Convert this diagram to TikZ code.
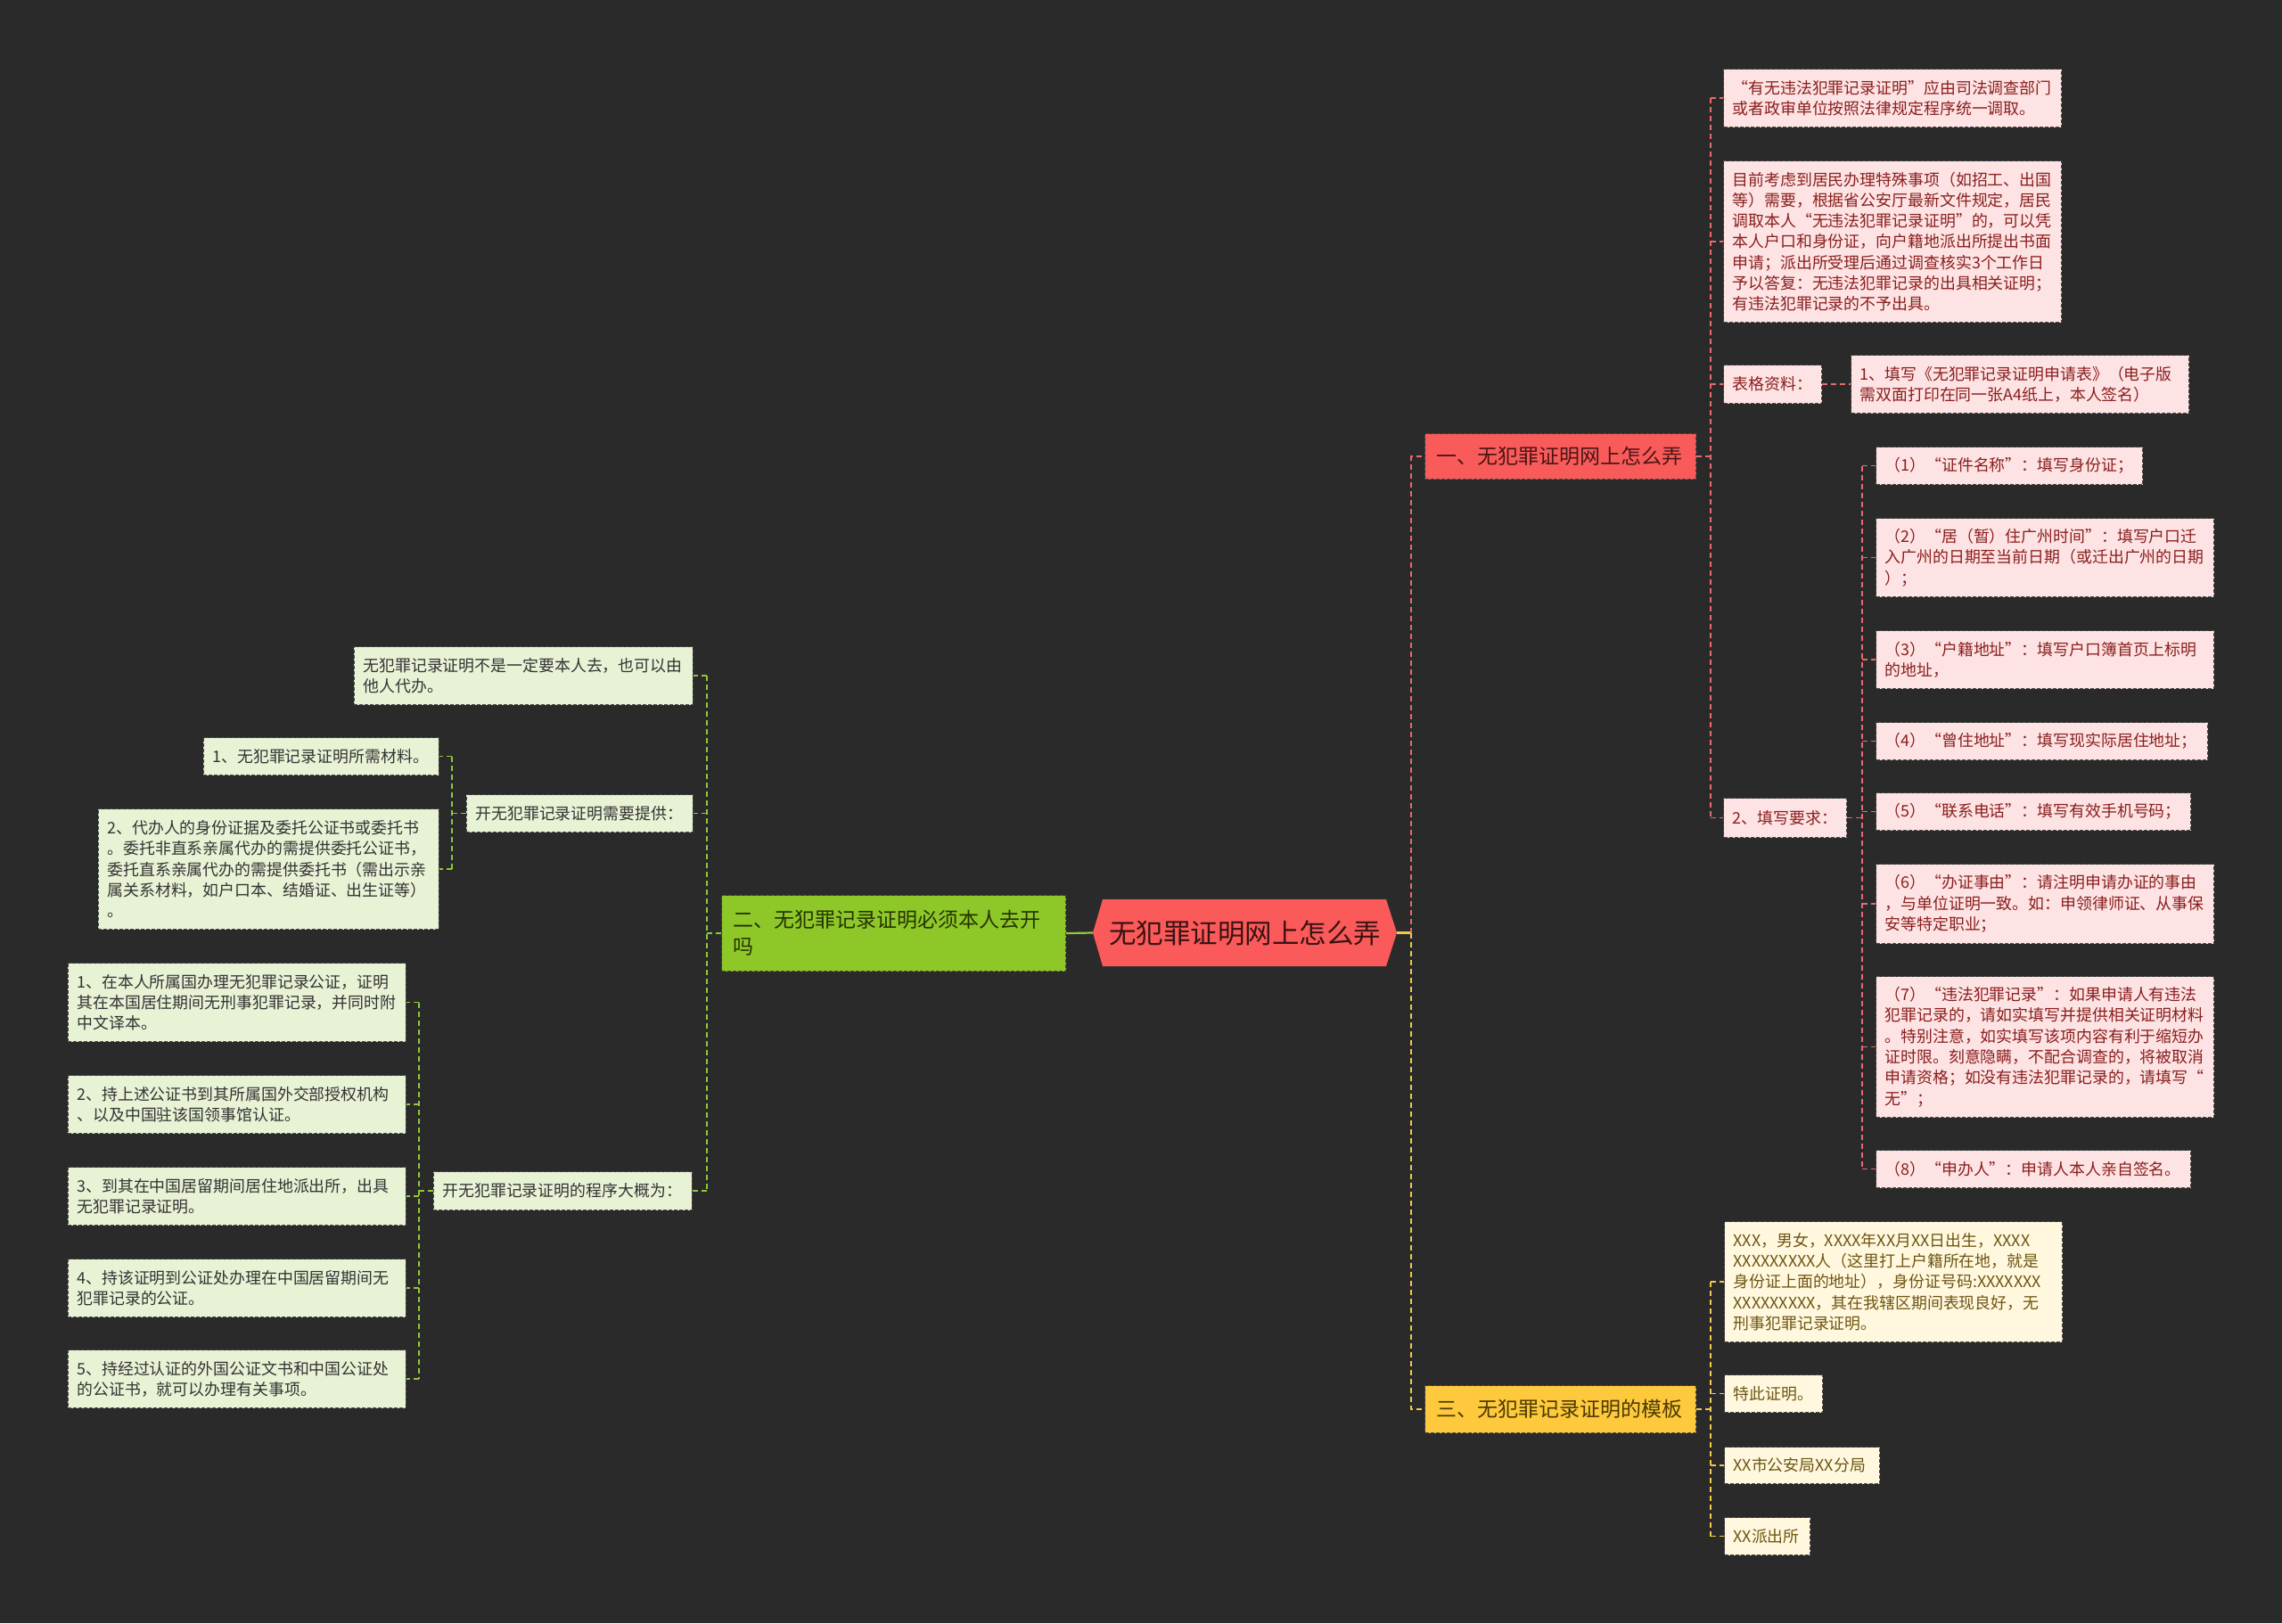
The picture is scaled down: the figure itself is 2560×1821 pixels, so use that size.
\documentclass[tikz,border=0pt]{standalone}
\usepackage{fontspec}
\setmainfont{Noto Sans CJK SC}
\definecolor{bg}{HTML}{2A2A2A}
\definecolor{rootfill}{HTML}{FA5A5A}
\definecolor{roottext}{HTML}{3B1212}
\definecolor{bonefill}{HTML}{F95B5B}
\definecolor{bonetext}{HTML}{4A1515}
\definecolor{bthreefill}{HTML}{FFC93D}
\definecolor{bthreetext}{HTML}{4A3A00}
\definecolor{btwofill}{HTML}{8DC828}
\definecolor{btwotext}{HTML}{263300}
\definecolor{rfill}{HTML}{FDE3E3}
\definecolor{rtext}{HTML}{8B1E1E}
\definecolor{yfill}{HTML}{FFF8DE}
\definecolor{ytext}{HTML}{6E5512}
\definecolor{gfill}{HTML}{E8F2D5}
\definecolor{gtext}{HTML}{333333}
\definecolor{rline}{HTML}{E76B6B}
\definecolor{yline}{HTML}{F2C94C}
\definecolor{gline}{HTML}{8FC93A}
\definecolor{boxline}{HTML}{4A4A4A}
\newcommand{\leaffont}{\fontsize{17.9}{23.3}\selectfont}
\newcommand{\branchfont}{\fontsize{23}{30}\selectfont}
\tikzset{
  box/.style={draw=boxline, dash pattern=on 4pt off 2pt, line width=1.1pt, inner xsep=10pt, inner ysep=0pt, align=left, font=\leaffont},
  rleaf/.style={box, fill=rfill, text=rtext, anchor=north west},
  yleaf/.style={box, fill=yfill, text=ytext, anchor=north west},
  gleaf/.style={box, fill=gfill, text=gtext, anchor=north east},
  branchbox/.style={box, font=\branchfont, inner xsep=13pt},
  conn/.style={line width=1.8pt, dash pattern=on 6pt off 4pt},
  rconn/.style={conn, draw=rline},
  yconn/.style={conn, draw=yline},
  gconn/.style={conn, draw=gline},
  ysolid/.style={line width=2.2pt, draw=yline},
  gsolid/.style={line width=2.2pt, draw=gline}
}
\begin{document}
\begin{tikzpicture}[x=1pt,y=-1pt]
\useasboundingbox (0,0) rectangle (2560,1821);
\fill[bg] (0,0) rectangle (2560,1821);

% root
\fill[rootfill] (1226,1046.5) -- (1237,1009) -- (1555,1009) -- (1567,1046.5) -- (1555,1084) -- (1237,1084) -- cycle;
\node[font=\fontsize{30.5}{36}\selectfont, text=roottext, minimum width=341pt, minimum height=75pt, inner sep=0pt] (root) at (1396.5,1046.5) {无犯罪证明网上怎么弄};

% branches
\node[branchbox, fill=bonefill, text=bonetext, anchor=north west, minimum height=51pt, text width=278pt] (b1) at (1598,486) {一、无犯罪证明网上怎么弄};
\node[branchbox, fill=bthreefill, text=bthreetext, anchor=north west, minimum height=53pt, text width=278pt] (b3) at (1598,1554) {三、无犯罪记录证明的模板};
\node[branchbox, fill=btwofill, text=btwotext, anchor=north west, minimum height=85pt, text width=360pt] (b2) at (809,1004) {二、无犯罪记录证明必须本人去开\\吗};

% red leaves
\node[rleaf, minimum height=65pt, text width=359pt] (r1) at (1933,77) {“有无违法犯罪记录证明”应由司法调查部门\\或者政审单位按照法律规定程序统一调取。};
\node[rleaf, minimum height=181pt, text width=359pt] (r2) at (1933,180) {目前考虑到居民办理特殊事项（如招工、出国\\等）需要，根据省公安厅最新文件规定，居民\\调取本人“无违法犯罪记录证明”的，可以凭\\本人户口和身份证，向户籍地派出所提出书面\\申请；派出所受理后通过调查核实3个工作日\\予以答复：无违法犯罪记录的出具相关证明；\\有违法犯罪记录的不予出具。};
\node[rleaf, minimum height=43pt, text width=90pt] (tb) at (1933,409) {表格资料：};
\node[rleaf, minimum height=65pt, text width=359pt] (t1) at (2076,398) {1、填写《无犯罪记录证明申请表》（电子版\\需双面打印在同一张A4纸上，本人签名）};
\node[rleaf, minimum height=44pt, text width=118pt] (tx) at (1933,895) {2、填写要求：};
\node[rleaf, minimum height=42pt, text width=279pt] (p1) at (2104,501) {（1）“证件名称”：填写身份证；};
\node[rleaf, minimum height=88pt, text width=359pt] (p2) at (2104,581) {（2）“居（暂）住广州时间”：填写户口迁\\入广州的日期至当前日期（或迁出广州的日期\\）；};
\node[rleaf, minimum height=65pt, text width=359pt] (p3) at (2104,707) {（3）“户籍地址”：填写户口簿首页上标明\\的地址，};
\node[rleaf, minimum height=42pt, text width=352pt] (p4) at (2104,810) {（4）“曾住地址”：填写现实际居住地址；};
\node[rleaf, minimum height=42pt, text width=333pt] (p5) at (2104,889) {（5）“联系电话”：填写有效手机号码；};
\node[rleaf, minimum height=89pt, text width=359pt] (p6) at (2104,969) {（6）“办证事由”：请注明申请办证的事由\\，与单位证明一致。如：申领律师证、从事保\\安等特定职业；};
\node[rleaf, minimum height=158pt, text width=359pt] (p7) at (2104,1095) {（7）“违法犯罪记录”：如果申请人有违法\\犯罪记录的，请如实填写并提供相关证明材料\\。特别注意，如实填写该项内容有利于缩短办\\证时限。刻意隐瞒，不配合调查的，将被取消\\申请资格；如没有违法犯罪记录的，请填写“\\无”；};
\node[rleaf, minimum height=42pt, text width=333pt] (p8) at (2104,1290) {（8）“申办人”：申请人本人亲自签名。};

% yellow leaves
\node[yleaf, minimum height=135pt, text width=359pt] (y1) at (1934,1370) {XXX，男女，XXXX年XX月XX日出生，XXXX\\XXXXXXXXX人（这里打上户籍所在地，就是\\身份证上面的地址），身份证号码:XXXXXXX\\XXXXXXXXX，其在我辖区期间表现良好，无\\刑事犯罪记录证明。};
\node[yleaf, minimum height=42pt, text width=90pt] (y2) at (1934,1542) {特此证明。};
\node[yleaf, minimum height=41pt, text width=154pt] (y3) at (1934,1623) {XX市公安局XX分局};
\node[yleaf, minimum height=42pt, text width=76pt] (y4) at (1934,1702) {XX派出所};

% green leaves
\node[gleaf, minimum height=65pt, text width=360pt] (g1) at (778,725) {无犯罪记录证明不是一定要本人去，也可以由\\他人代办。};
\node[gleaf, minimum height=42pt, text width=234pt] (g2) at (778,891) {开无犯罪记录证明需要提供：};
\node[gleaf, minimum height=42pt, text width=244pt] (g21) at (493,827) {1、无犯罪记录证明所需材料。};
\node[gleaf, minimum height=135pt, text width=362pt] (g22) at (493,907) {2、代办人的身份证据及委托公证书或委托书\\。委托非直系亲属代办的需提供委托公证书，\\委托直系亲属代办的需提供委托书（需出示亲\\属关系材料，如户口本、结婚证、出生证等）\\。};
\node[gleaf, minimum height=43pt, text width=270pt] (g3) at (777,1314) {开无犯罪记录证明的程序大概为：};
\node[gleaf, minimum height=88pt, text width=359pt] (s1) at (456,1080) {1、在本人所属国办理无犯罪记录公证，证明\\其在本国居住期间无刑事犯罪记录，并同时附\\中文译本。};
\node[gleaf, minimum height=65pt, text width=359pt] (s2) at (456,1206) {2、持上述公证书到其所属国外交部授权机构\\、以及中国驻该国领事馆认证。};
\node[gleaf, minimum height=65pt, text width=359pt] (s3) at (456,1309) {3、到其在中国居留期间居住地派出所，出具\\无犯罪记录证明。};
\node[gleaf, minimum height=65pt, text width=359pt] (s4) at (456,1412) {4、持该证明到公证处办理在中国居留期间无\\犯罪记录的公证。};
\node[gleaf, minimum height=65pt, text width=359pt] (s5) at (456,1514) {5、持经过认证的外国公证文书和中国公证处\\的公证书，就可以办理有关事项。};

% connectors: root
\draw[gsolid] (root.west) -- (b2.east);
\draw[ysolid] (root.east) -- ++(16,0) coordinate (rj);
\draw[rconn] (rj) |- (b1.west);
\draw[yconn] (rj) |- (b3.west);

% branch 1
\draw[rconn] (b1.east) -- ++(16,0) coordinate (b1j);
\draw[rconn] (b1j |- r1.west) -- (b1j |- tx.west);
\foreach \n in {r1,r2,tb,tx} \draw[rconn] (b1j |- \n.west) -- (\n.west);
\draw[rconn] (tb.east) -- (t1.west);
\draw[rconn] (tx.east) -- ++(17,0) coordinate (txj);
\draw[rconn] (txj |- p1.west) -- (txj |- p8.west);
\foreach \n in {p1,p2,p3,p4,p5,p6,p7,p8} \draw[rconn] (txj |- \n.west) -- (\n.west);

% branch 3
\draw[yconn] (b3.east) -- ++(16,0) coordinate (b3j);
\draw[yconn] (b3j |- y1.west) -- (b3j |- y4.west);
\foreach \n in {y1,y2,y3,y4} \draw[yconn] (b3j |- \n.west) -- (\n.west);

% branch 2
\draw[gconn] (b2.west) -- ++(-16,0) coordinate (b2j);
\draw[gconn] (b2j |- g1.east) -- (b2j |- g3.east);
\foreach \n in {g1,g2,g3} \draw[gconn] (b2j |- \n.east) -- (\n.east);
\draw[gconn] (g2.west) -- ++(-16,0) coordinate (g2j);
\draw[gconn] (g2j |- g21.east) -- (g2j |- g22.east);
\foreach \n in {g21,g22} \draw[gconn] (g2j |- \n.east) -- (\n.east);
\draw[gconn] (g3.west) -- ++(-16,0) coordinate (g3j);
\draw[gconn] (g3j |- s1.east) -- (g3j |- s5.east);
\foreach \n in {s1,s2,s3,s4,s5} \draw[gconn] (g3j |- \n.east) -- (\n.east);
\end{tikzpicture}
\end{document}
